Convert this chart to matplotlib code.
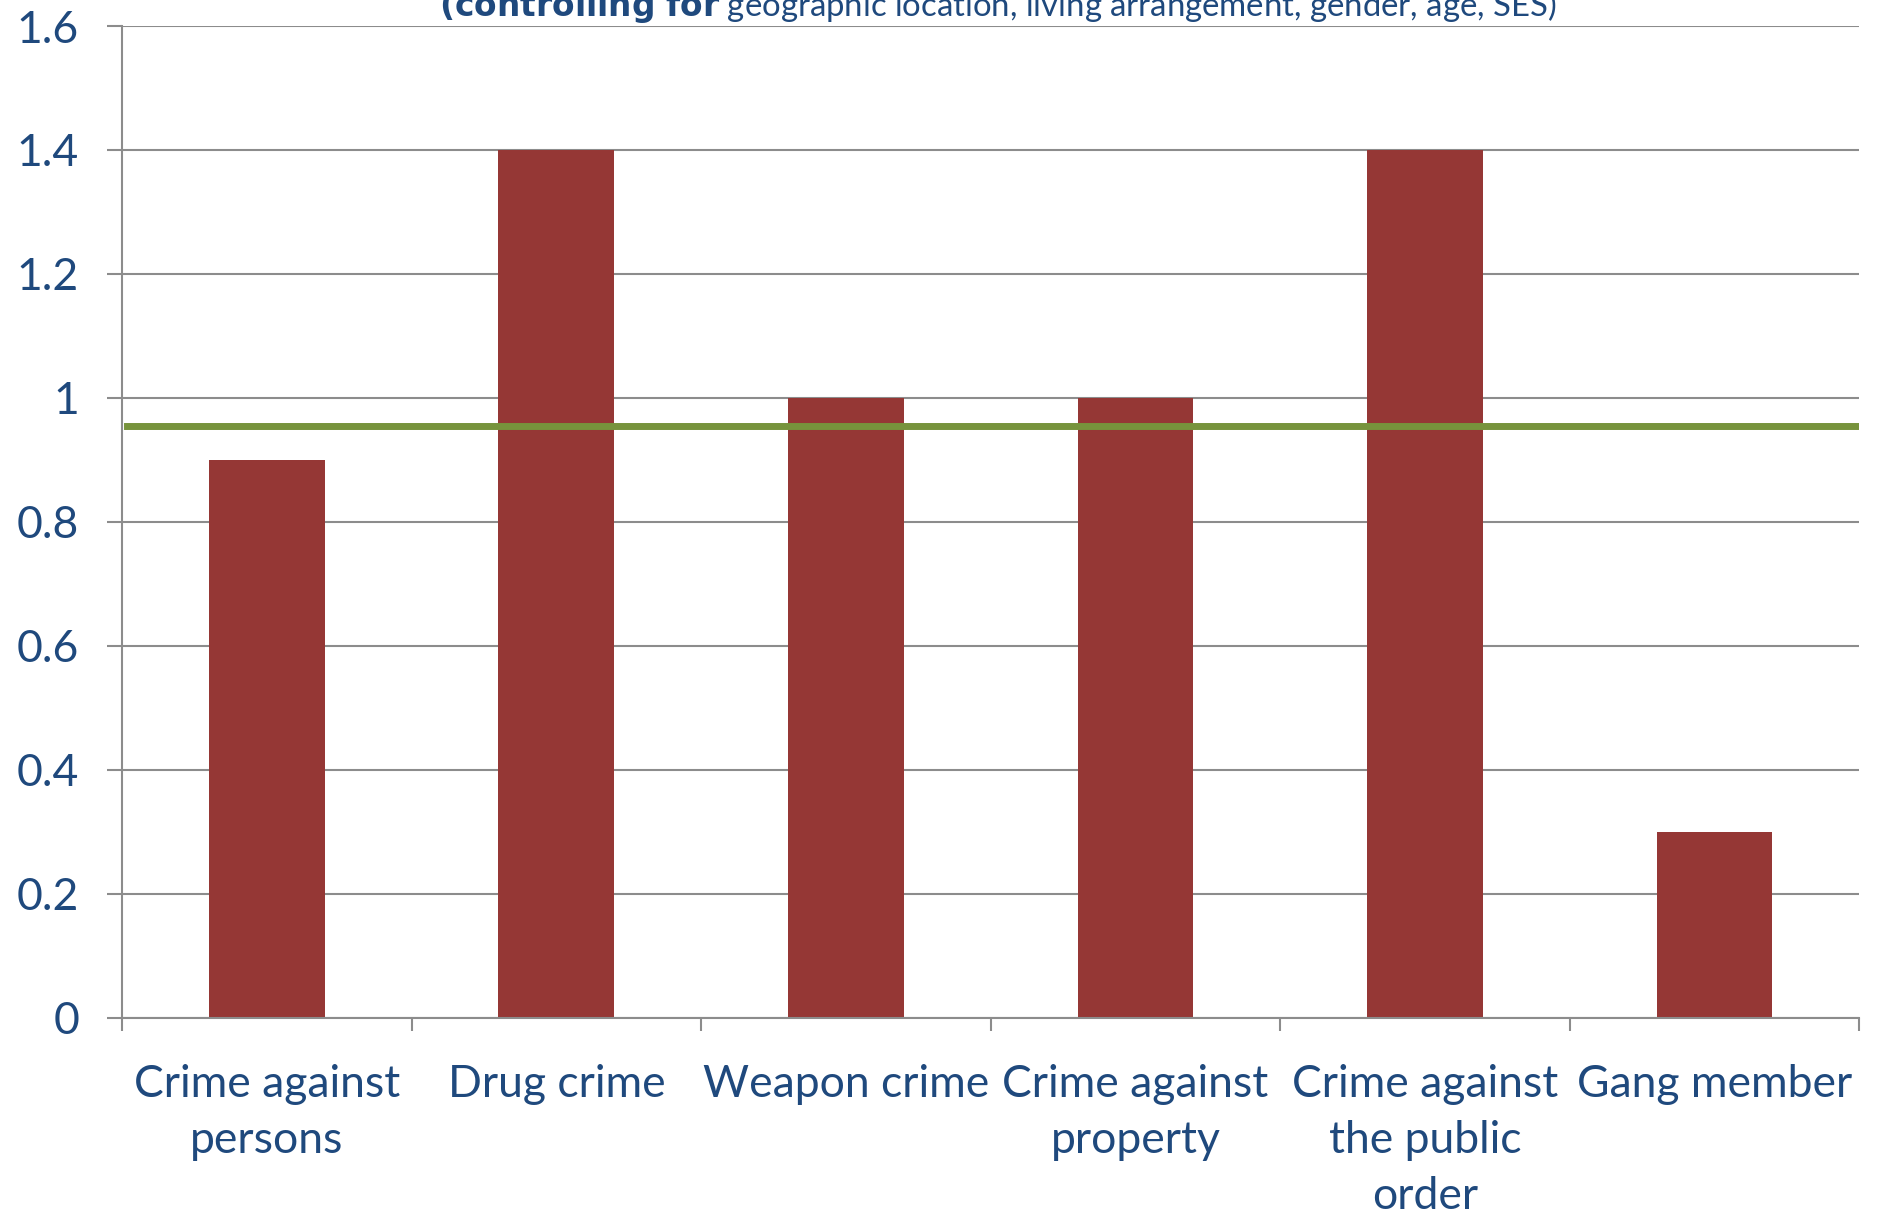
import numpy as np
import matplotlib
matplotlib.use("Agg")
import matplotlib.pyplot as plt

# Data
categories = ["Crime against\npersons", "Drug crime", "Weapon crime",
              "Crime against\nproperty", "Crime against\nthe public\norder", "Gang member"]
values = [0.9, 1.4, 1.0, 1.0, 1.4, 0.3]
reference_level = 0.955
y_ticks = [0, 0.2, 0.4, 0.6, 0.8, 1, 1.2, 1.4, 1.6]
y_tick_labels = ["0", "0.2", "0.4", "0.6", "0.8", "1", "1.2", "1.4", "1.6"]

bar_color = "#953735"
line_color = "#77933C"
text_color = "#1F497D"
grid_color = "#8C8C8C"

plt.rcParams["font.family"] = ["Lato", "DejaVu Sans"]

fig = plt.figure(figsize=(18.78, 12.16), dpi=100)
ax = fig.add_axes([0.065, 0.163, 0.925, 0.8156])

x = np.arange(len(categories))
ax.bar(x, values, width=0.4, color=bar_color, zorder=2)
ax.axhline(reference_level, xmin=0.003, xmax=0.999, color=line_color, linewidth=5, zorder=3)

ax.set_xlim(-0.5, len(categories) - 0.5)
ax.set_ylim(0, 1.6)
ax.set_yticks(y_ticks)
ax.set_yticklabels(y_tick_labels)
ax.yaxis.grid(True, color=grid_color, linewidth=1.5, zorder=1)

# category labels at centers, tick marks at boundaries
ax.set_xticks(x)
ax.set_xticklabels(categories, linespacing=1.46)
ax.set_xticks(np.arange(len(categories) + 1) - 0.5, minor=True)
ax.tick_params(axis="x", which="major", length=0, pad=33, labelsize=32, labelcolor=text_color)
ax.tick_params(axis="x", which="minor", length=9, width=1.5, color=grid_color, direction="out")
ax.tick_params(axis="y", length=11, width=1.5, color=grid_color, pad=20, labelsize=32, labelcolor=text_color)

for side in ["top", "right"]:
    ax.spines[side].set_visible(False)
ax.spines["left"].set_color(grid_color)
ax.spines["left"].set_linewidth(1.5)
ax.spines["bottom"].set_color(grid_color)
ax.spines["bottom"].set_linewidth(1.5)

# subtitle, partly cut off at top in the original
fig.text(0.531, 0.987, r"$\bf{(controlling\ for}$ geographic location, living arrangement, gender, age, SES)",
         ha="center", va="baseline", fontsize=23.7, color=text_color)

fig.savefig("out.png", dpi=100)
